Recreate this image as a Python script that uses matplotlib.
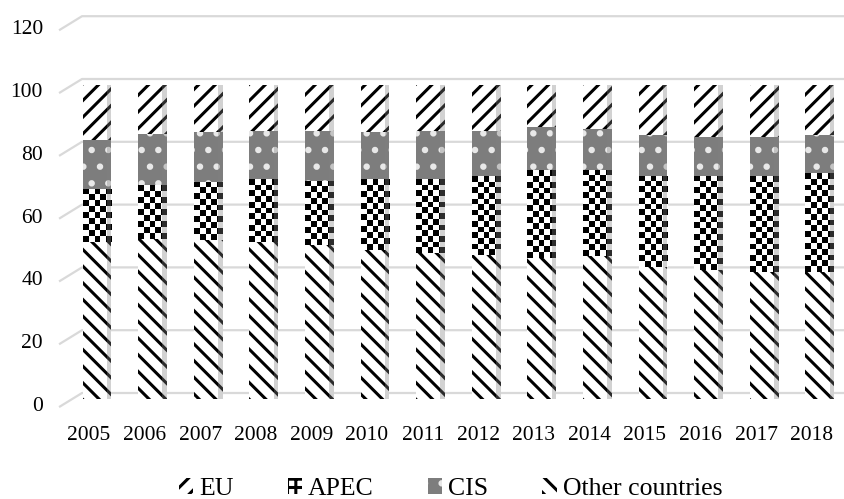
import numpy as np
import matplotlib.pyplot as plt
from matplotlib.transforms import ScaledTranslation, blended_transform_factory

# share of exports by region, %
years = [str(y) for y in range(2005, 2019)]
other = [50, 51, 50.5, 50, 49, 47.5, 46.5, 46, 45, 45.5, 42, 41, 40.5, 40.5]
apec = [17, 17, 18.5, 20, 20.5, 22.5, 23.5, 25, 28, 27.5, 29, 30, 30.5, 31.5]
cis = [15.5, 16.5, 16, 15.5, 16, 15, 15.5, 14.5, 13.5, 13, 13, 12.5, 12.5, 12]
eu = [17.5, 15.5, 15, 14.5, 14.5, 15, 14.5, 14.5, 13.5, 14, 16, 16.5, 16.5, 16]
yticks = [0, 20, 40, 60, 80, 100, 120]

plt.rcParams['font.family'] = 'Liberation Serif'
plt.rcParams['hatch.linewidth'] = 2.2

W_PX, H_PX = 845, 499
AX_W, AX_H = 778.4, 376.8
fig = plt.figure(figsize=(W_PX / 100, H_PX / 100), dpi=100)
ax = fig.add_axes([66.4 / W_PX, 100 / H_PX, AX_W / W_PX, AX_H / H_PX])
ax.axis('off')

x = np.arange(len(years))
w = 0.52
xlim = (-0.55, 13.45)
ylim = (0, 120)
ppu_x = AX_W / (xlim[1] - xlim[0])
ppu_y = AX_H / (ylim[1] - ylim[0])

b_other = ax.bar(x, other, w, color='white', edgecolor='black', lw=0, hatch='\\\\', zorder=3)
bottom = np.array(other, dtype=float)
b_apec = ax.bar(x, apec, w, bottom=bottom, color='white', edgecolor='black', lw=0, hatch='++', zorder=3)
bottom = bottom + apec
b_cis = ax.bar(x, cis, w, bottom=bottom, color='#7d7d7d', edgecolor='#e8e8e8', lw=0, hatch='.', zorder=3)
bottom = bottom + cis
b_eu = ax.bar(x, eu, w, bottom=bottom, color='white', edgecolor='black', lw=0, hatch='//', zorder=3)
total = bottom + eu

# checkerboard texture for APEC
for r in b_apec:
    ncol = 5
    cell = r.get_width() * ppu_x / ncol
    nrow = max(1, int(round(r.get_height() * ppu_y / cell)))
    board = np.indices((nrow, ncol)).sum(axis=0) % 2
    im = ax.imshow(board, cmap='gray', aspect='auto', interpolation='nearest', zorder=3.5,
                   extent=(r.get_x(), r.get_x() + r.get_width(), r.get_y(), r.get_y() + r.get_height()))
    im.set_clip_path(r)

# cylinder shading on the right side
shade = 0.16 * w
ax.bar(x + w / 2 - shade / 2, total, shade, color='#808080', alpha=0.35, lw=0, zorder=4)

ax.set_xlim(*xlim)
ax.set_ylim(*ylim)

# pseudo 3D back wall grid
dx, dy = 22, 13.5
front_drop = 7.5
trans = ax.get_yaxis_transform()
x_front = -6.4 / AX_W
x_back = x_front + dx / AX_W
for v in yticks:
    y_front = v - front_drop / ppu_y
    y_back = v + (dy - front_drop) / ppu_y
    ax.plot([x_front, x_back, 1.0], [y_front, y_back, y_back], transform=trans,
            color='#d9d9d9', lw=1.6, clip_on=False, zorder=1)
    ax.text(x_front - 17 / AX_W, y_front, str(v), transform=trans,
            ha='right', va='center', fontsize=15.5)

xt = blended_transform_factory(ax.transData, ax.transAxes) + ScaledTranslation(-0.08, 0, fig.dpi_scale_trans)
for i, yr in enumerate(years):
    ax.text(i, -36 / AX_H, yr, transform=xt, ha='center', va='center', fontsize=15.5)

fig.legend([b_eu, b_apec, b_cis, b_other], ['EU', 'APEC', 'CIS', 'Other countries'],
           loc='center', bbox_to_anchor=(450.5 / W_PX, 0.02), ncol=4, frameon=False, fontsize=18.5,
           handlelength=0.55, handleheight=0.55, handletextpad=0.25, columnspacing=2.1,
           borderpad=0)

fig.savefig('out.png', dpi=100)
